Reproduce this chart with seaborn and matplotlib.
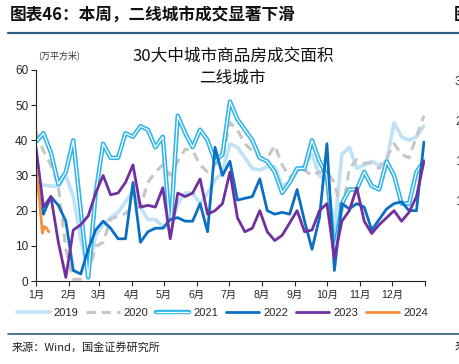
import numpy as np
import pandas as pd
import matplotlib
matplotlib.use('Agg')
import matplotlib.pyplot as plt
import matplotlib.patheffects as pe
import seaborn as sns

# weekly points, day of year (0 = Jan 1)
week_days = list(range(0, 365, 7))

v2019 = [27.8, 27.3, 27.0, 26.8, 30.0, 24.0, 12.0, 2.0, 13.0, 16.0,
         18.0, 19.5, 22.5, 25.5, 21.0, 17.5, 17.5, 15.5, 15.0, 22.0,
         25.0, 25.0, 22.0, 25.0, 28.7, 31.0, 39.0, 38.0, 35.0, 32.0,
         31.5, 32.5, 32.5, 27.0, 28.0, 31.0, 33.0, 36.0, 30.0, 28.0,
         15.0, 36.0, 38.0, 32.0, 33.0, 34.0, 33.0, 34.0, 45.0, 41.0,
         40.0, 41.0, 44.0]
v2020 = [42.5, 37.0, 33.0, 27.0, 9.0, 0.5, 0.5, 2.0, 9.8, 11.0,
         17.5, 18.5, 19.2, 21.0, 21.0, 28.0, 31.0, 33.0, 30.0, 34.0,
         37.5, 37.0, 33.0, 31.0, 33.0, 35.0, 45.0, 43.0, 39.0, 37.0,
         35.0, 35.0, 38.5, 33.0, 29.5, 31.0, 31.5, 30.0, 31.0, 31.0,
         28.0, 19.0, 32.0, 34.5, 33.5, 33.5, 32.0, 35.0, 39.0, 36.0,
         35.0, 41.0, 47.0]
v2021 = [39.6, 42.0, 36.5, 27.5, 31.0, 40.0, 20.0, 1.0, 25.0, 39.0,
         35.0, 35.0, 42.0, 41.0, 44.0, 43.0, 38.0, 41.0, 14.0, 47.0,
         42.0, 38.0, 43.0, 40.0, 34.0, 36.0, 51.0, 46.0, 43.0, 40.0,
         35.0, 34.0, 31.0, 25.0, 28.0, 32.0, 32.0, 40.0, 34.0, 30.0,
         8.0, 22.0, 26.0, 26.0, 31.0, 27.0, 26.0, 34.0, 30.0, 22.0,
         22.0, 31.0, 34.0]
v2022 = [30.0, 19.0, 24.0, 21.5, 17.0, 3.0, 2.0, 9.0, 14.5, 17.0,
         15.0, 12.0, 12.0, 28.0, 11.0, 14.0, 15.0, 15.0, 17.5, 18.0,
         17.0, 17.0, 22.0, 14.0, 38.0, 30.0, 34.0, 23.0, 23.5, 24.0,
         29.0, 20.0, 19.0, 19.5, 19.0, 26.0, 17.0, 9.0, 18.0, 39.0,
         3.0, 22.0, 20.5, 22.0, 21.0, 14.5, 17.5, 20.5, 22.0, 22.5,
         20.0, 20.0, 39.5]
v2023 = [38.0, 21.0, 24.0, 11.0, 1.0, 14.5, 16.0, 18.5, 25.0, 30.0,
         24.5, 25.0, 28.0, 33.0, 21.0, 21.5, 21.0, 26.5, 12.0, 25.0,
         24.0, 25.0, 29.0, 19.0, 20.0, 22.0, 31.0, 18.0, 14.0, 15.0,
         20.0, 14.0, 11.5, 13.0, 16.5, 20.0, 14.0, 14.5, 20.0, 22.0,
         6.5, 17.0, 20.0, 26.5, 17.0, 13.5, 16.0, 18.0, 20.0, 17.0,
         19.5, 24.0, 34.0]
days2024 = [0, 3, 6, 8, 10, 12]
v2024 = [31.5, 24.0, 13.6, 15.5, 15.0, 14.0]

month_days = [0, 31, 59, 90, 120, 151, 181, 212, 243, 273, 304, 334]
month_labels = ['1月', '2月', '3月', '4月', '5月', '6月',
                '7月', '8月', '9月', '10月', '11月', '12月']

sns.set_style('ticks')
plt.rcParams['font.family'] = ['Liberation Sans', 'Noto Sans CJK SC']
cjk = ['Noto Sans CJK SC', 'DejaVu Sans']

fig = plt.figure(figsize=(4.59, 3.64), dpi=100)
ax = fig.add_axes([0.0784, 0.228, 0.8475, 0.58])

sns.lineplot(x=week_days, y=v2019, ax=ax, color='#BFE2F7', lw=2.6, label='2019')
sns.lineplot(x=week_days, y=v2020, ax=ax, color='#C6C6C6', lw=2.2,
             linestyle=(0, (3, 2)), label='2020')
sns.lineplot(x=week_days, y=v2021, ax=ax, color='white', lw=0.9, label='2021',
             path_effects=[pe.Stroke(linewidth=3.2, foreground='#2FB4EA'), pe.Normal()])
sns.lineplot(x=week_days, y=v2022, ax=ax, color='#0A6FC2', lw=2.0, label='2022')
sns.lineplot(x=week_days, y=v2023, ax=ax, color='#7030A0', lw=2.0, label='2023')
sns.lineplot(x=days2024, y=v2024, ax=ax, color='#F7913D', lw=2.0, label='2024')

ax.set_xlim(0, 365)
ax.set_ylim(0, 60)
ax.set_yticks(range(0, 61, 10))
ax.set_xticks(month_days + [365])
ax.set_xticklabels(month_labels + [''], fontsize=7.5)
ax.tick_params(axis='y', labelsize=8.5, length=3.5, width=0.8, pad=2)
ax.tick_params(axis='x', length=3.5, width=0.8, pad=3)
ax.set_xlabel('')
ax.set_ylabel('')
for s in ['top', 'right']:
    ax.spines[s].set_visible(False)
for s in ['left', 'bottom']:
    ax.spines[s].set_color('#222222')
    ax.spines[s].set_linewidth(0.8)

ax.legend(loc='center', bbox_to_anchor=(0.484, 0.14), bbox_transform=fig.transFigure,
          ncol=6, frameon=False, fontsize=8, handlelength=3.0, handletextpad=0.35,
          columnspacing=0.7, borderaxespad=0)

W, H = 459, 364
def fx(px):
    return px / W
def fy(py):
    return 1 - py / H

# page header, rule lines and source note
fig.text(fx(10), fy(15), '图表46：本周，二线城市成交显著下滑', family=cjk,
         fontsize=12, fontweight='bold', va='center', ha='left', color='#111111')
fig.text(fx(454), fy(15), '图', family=cjk, fontsize=12, fontweight='bold',
         va='center', ha='left', color='#111111')
fig.add_artist(plt.Line2D([fx(8), 1], [fy(33), fy(33)], color='#2F5F80', lw=1.6))

fig.text(fx(38), fy(55), '(万平方米)', family=cjk, fontsize=6.5, va='center', ha='left',
         color='#333333')
fig.text(fx(233), fy(56), '30大中城市商品房成交面积', family=cjk, fontsize=12,
         va='center', ha='center', color='#111111')
fig.text(fx(232), fy(78), '二线城市', family=cjk, fontsize=12,
         va='center', ha='center', color='#111111')

# tick labels of the neighbouring chart, cut by the right edge
for py, t in [(82, '3'), (122, '2'), (162, '1'), (202, '1')]:
    fig.text(fx(455), fy(py), t, fontsize=8.5, va='center', ha='left', color='#333333')

fig.add_artist(plt.Line2D([fx(8), 1], [fy(334), fy(334)], color='#2F5F80', lw=1.2))
fig.text(fx(12), fy(347), '来源：Wind，国金证券研究所', family=cjk, fontsize=8,
         va='center', ha='left', color='#222222')
fig.text(fx(455), fy(347), '来', family=cjk, fontsize=8, va='center', ha='left',
         color='#222222')

fig.savefig('out.png', dpi=100)
